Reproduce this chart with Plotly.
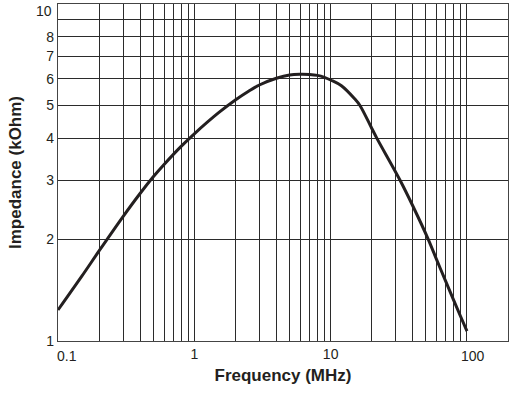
import math
import plotly.graph_objects as go

freq_mhz = [0.1, 0.15, 0.2, 0.3, 0.4, 0.5, 0.6, 0.8, 1, 1.5, 2, 2.5, 3, 4, 5, 6, 7, 8, 9,
            10, 12, 15, 16.4, 20, 21.8, 32.3, 40, 52.1, 60, 70, 80, 90, 100]
impedance_kohm = [1.236, 1.56, 1.85, 2.34, 2.74, 3.07, 3.34, 3.78, 4.12, 4.75, 5.19, 5.51,
                  5.75, 6.02, 6.16, 6.19, 6.18, 6.14, 6.06, 5.95, 5.72, 5.23, 5.0, 4.28,
                  4.0, 3.0, 2.52, 2.0, 1.74, 1.50, 1.32, 1.18, 1.07]

x_grid = [m * 10 ** e for e in (-1, 0, 1) for m in range(1, 10)] + [100]
x_labels = {1: "1", 10: "10"}
x_text = [x_labels.get(round(v, 6), "") for v in x_grid]
x_edge_labels = [(0.1, "0.1", 9), (100, "100", 6)]

y_grid = [1, 2, 3, 4, 5, 6, 7, 8, 9, 10]
y_text = ["1", "2", "3", "4", "5", "6", "7", "8", "", ""]
y_top_label = (10, "10")

fig = go.Figure()
fig.add_trace(go.Scatter(x=freq_mhz, y=impedance_kohm, mode="lines",
                         line=dict(color="#231f20", width=3, shape="spline", smoothing=1.0),
                         hoverinfo="skip", showlegend=False))

font_family = "Liberation Sans, Arial, sans-serif"
text_color = "#231f20"

for xv, txt, shift in x_edge_labels:
    fig.add_annotation(x=math.log10(xv), xref="x", y=0, yref="paper", text=txt,
                       showarrow=False, xanchor="center", yanchor="top",
                       xshift=shift, yshift=-5,
                       font=dict(size=14, color=text_color, family=font_family))

fig.add_annotation(x=0, xref="paper", y=math.log10(y_top_label[0]), yref="y",
                   text=y_top_label[1], showarrow=False, xanchor="right", yanchor="middle",
                   xshift=-4, yshift=-7,
                   font=dict(size=14, color=text_color, family=font_family))

fig.update_layout(
    width=516, height=393,
    margin=dict(l=58, r=8, t=4, b=52),
    paper_bgcolor="white", plot_bgcolor="white",
    font=dict(family=font_family, color=text_color, size=14),
    xaxis=dict(type="log", range=[-1, math.log10(200)], tickvals=x_grid, ticktext=x_text,
               showgrid=True, gridcolor="#2b2b2b", gridwidth=1, zeroline=False,
               showline=True, linecolor="#444", linewidth=1.3, mirror=True,
               ticks="", tickfont=dict(size=14), automargin=False,
               title=dict(text="<b>Frequency (MHz)</b>", font=dict(size=17), standoff=8)),
    yaxis=dict(type="log", range=[0, 1], tickvals=y_grid, ticktext=y_text,
               showgrid=True, gridcolor="#2b2b2b", gridwidth=1, zeroline=False,
               showline=True, linecolor="#444", linewidth=1.3, mirror=True,
               ticks="", tickfont=dict(size=14), automargin=False,
               title=dict(text="<b>Impedance (kOhm)</b>", font=dict(size=17), standoff=20)),
)

fig.write_html("out.html", config={"displayModeBar": False},
               post_script="document.body.style.margin='0';")
